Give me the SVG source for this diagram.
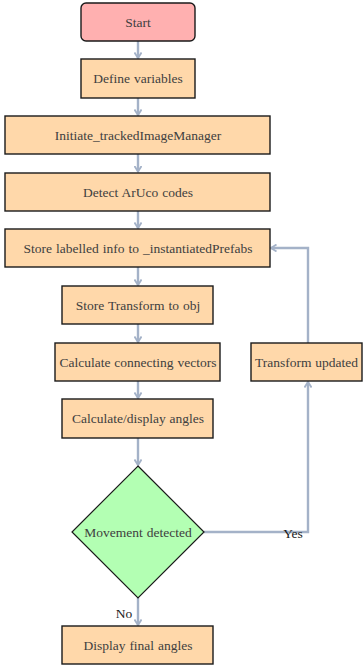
<svg xmlns="http://www.w3.org/2000/svg" width="363" height="668" viewBox="0 0 363 668">
<style>
.box{fill:#ffd8aa;stroke:#1a1a1a;stroke-width:1.4}
.start{fill:#ffb0b0;stroke:#1a1a1a;stroke-width:1.4}
.dec{fill:#b3ffb3;stroke:#1a1a1a;stroke-width:1.2}
text{font-family:"Liberation Serif","DejaVu Serif",serif;font-size:13.5px;word-spacing:0.6px;fill:#404040;text-anchor:middle;dominant-baseline:central}
.lbl{fill:#1a1a1a}
.c{fill:none;stroke:#a4b2c8;stroke-width:2.4}
</style>
<defs>
<marker id="ah" markerWidth="8" markerHeight="8" refX="6" refY="4" orient="auto" markerUnits="userSpaceOnUse">
<path d="M0.5,0.5 L6,4 L0.5,7.5" fill="none" stroke="#a4b2c8" stroke-width="1.8"/>
</marker>
</defs>
<g id="connectors">
<path class="c" d="M138,41 V58" marker-end="url(#ah)"/>
<path class="c" d="M138,98 V115" marker-end="url(#ah)"/>
<path class="c" d="M138,154 V171.5" marker-end="url(#ah)"/>
<path class="c" d="M138,211 V228" marker-end="url(#ah)"/>
<path class="c" d="M138,267 V285" marker-end="url(#ah)"/>
<path class="c" d="M138,324 V342" marker-end="url(#ah)"/>
<path class="c" d="M138,381 V398" marker-end="url(#ah)"/>
<path class="c" d="M138,438 V465" marker-end="url(#ah)"/>
<path class="c" d="M138,598 V625" marker-end="url(#ah)"/>
<path class="c" d="M204,532 H308 V382" marker-end="url(#ah)"/>
<path class="c" d="M308,343 V248 H271" marker-end="url(#ah)"/>
<text class="lbl" x="293" y="533">Yes</text>
<text class="lbl" x="124" y="613">No</text>
</g>
<g id="start"><rect class="start" x="81" y="3" width="114" height="38" rx="5"/><text x="138" y="22">Start</text></g>
<g id="define"><rect class="box" x="81" y="59" width="114" height="39"/><text x="138" y="78.5">Define variables</text></g>
<g id="initiate"><rect class="box" x="5" y="116" width="265" height="38"/><text x="138" y="135">Initiate_trackedImageManager</text></g>
<g id="detect"><rect class="box" x="5" y="173" width="265" height="38"/><text x="138" y="192">Detect ArUco codes</text></g>
<g id="store"><rect class="box" x="5" y="229" width="265" height="38"/><text x="138" y="248">Store labelled info to _instantiatedPrefabs</text></g>
<g id="storeTransform"><rect class="box" x="62" y="286" width="151" height="38"/><text x="138" y="305">Store Transform to obj</text></g>
<g id="calcVectors"><rect class="box" x="55" y="343" width="165" height="38"/><text x="138" y="362">Calculate connecting vectors</text></g>
<g id="transformUpdated"><rect class="box" x="251" y="343" width="111" height="38"/><text x="306.5" y="362">Transform updated</text></g>
<g id="calcAngles"><rect class="box" x="62" y="399" width="151" height="39"/><text x="138" y="418.5">Calculate/display angles</text></g>
<g id="movement"><polygon class="dec" points="138,466 204,532 138,598 72,532"/><text x="138" y="532">Movement detected</text></g>
<g id="display"><rect class="box" x="62" y="626" width="151" height="38"/><text x="138" y="645">Display final angles</text></g>
</svg>
